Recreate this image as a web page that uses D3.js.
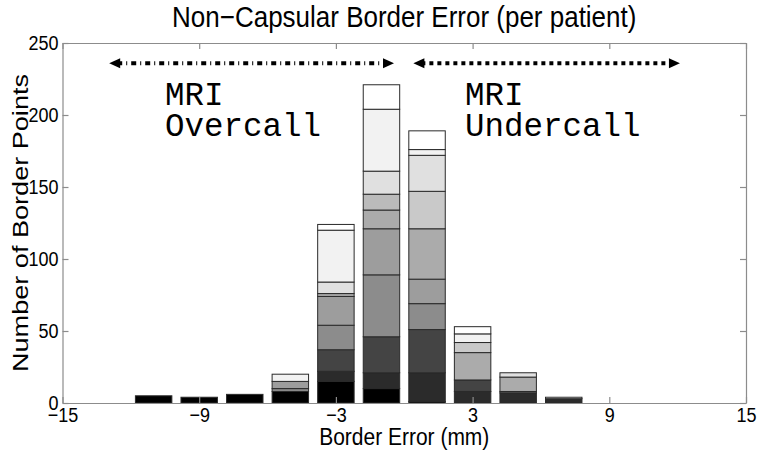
<!DOCTYPE html>
<html>
<head>
<meta charset="utf-8">
<script src="https://cdn.jsdelivr.net/npm/d3@7"></script>
<style>
  body { margin: 0; background: #fff; }
  text { font-family: "Liberation Sans", Arial, Helvetica, sans-serif; fill: #000; }
  .axis path, .axis line { stroke: #8c8c8c; stroke-width: 1.2; }
  .note { font-family: "Courier New", "Liberation Mono", monospace; }
</style>
</head>
<body>
<div id="chart"></div>
<script>
// bin centres (mm) of the histogram
const binCenters = [-11, -9, -7, -5, -3, -1, 1, 3, 5, 7];

// border points per patient in each bin (bottom of the stack first)
const patient01 = [5, 4, 6, 8, 15, 10, 1, 0, 0, 0];
const patient02 = [0, 0, 0, 0, 7, 11, 20, 8, 7, 3];
const patient03 = [0, 0, 0, 0, 15, 25, 30, 8, 0, 0];
const patient04 = [0, 0, 0, 0, 0, 0, 0, 0, 1, 0];
const patient05 = [0, 0, 0, 2, 17, 43, 18, 0, 0, 0];
const patient06 = [0, 0, 0, 5, 20, 32, 17, 0, 0, 0];
const patient07 = [0, 0, 0, 0, 2, 13, 35, 19, 10, 0];
const patient08 = [0, 0, 0, 0, 0, 11, 0, 0, 0, 0];
const patient09 = [0, 0, 0, 0, 0, 0, 26, 7, 0, 0];
const patient10 = [0, 0, 0, 0, 8, 16, 25, 0, 3, 0];
const patient11 = [0, 0, 0, 5, 36, 43, 4, 6, 0, 0];
const patient12 = [0, 0, 0, 0, 4, 17, 13, 5, 0, 1];

const patients = [patient01, patient02, patient03, patient04, patient05, patient06,
                  patient07, patient08, patient09, patient10, patient11, patient12];

const xTicks = [-15, -9, -3, 3, 9, 15];
const yTicks = [0, 50, 100, 150, 200, 250];

// arrows and labels above the histogram (data units)
const arrowFrom = [-12.95, 0.4];
const arrowTo = [-0.45, 12.1];
const arrowLevel = 236;
const noteX = [-10.5, 2.67];
const noteY = 207;
const noteLines = [["MRI", "Overcall"], ["MRI", "Undercall"]];

// grey colormap, one shade per patient
const shades = ["#000000", "#2b2b2b", "#444444", "#666666", "#8c8c8c", "#9d9d9d",
                "#ababab", "#bbbbbb", "#c9c9c9", "#e0e0e0", "#f2f2f2", "#ffffff"];

const w = 762, h = 453;
const plotLeft = 62.5, plotRight = 746, plotTop = 43, plotBottom = 403;
const stretch = 1.15; // text in the source is a bit taller than wide

const x = d3.scaleLinear().domain([-15, 15]).range([plotLeft, plotRight]);
const y = d3.scaleLinear().domain([0, 250]).range([plotBottom, plotTop]);
const barW = x(1.6) - x(0);

const fmt = d => d < 0 ? "\u2212" + Math.abs(d) : String(d);

const svg = d3.select("#chart").append("svg")
  .attr("width", w)
  .attr("height", h);

// build table for the stack
const keys = patients.map((p, i) => "p" + i);
const table = binCenters.map((c, j) => {
  const row = { center: c };
  patients.forEach((p, i) => { row["p" + i] = p[j]; });
  return row;
});
const series = d3.stack().keys(keys)(table);

const layers = svg.append("g").classed("bars", true)
  .selectAll("g")
  .data(series)
  .enter().append("g")
    .style("fill", (d, i) => shades[i]);

layers.selectAll("rect")
  .data(d => d.filter(s => s[1] - s[0] > 0))
  .enter().append("rect")
    .attr("x", d => x(d.data.center) - barW / 2)
    .attr("y", d => y(d[1]))
    .attr("width", barW)
    .attr("height", d => y(d[0]) - y(d[1]))
    .attr("stroke", "#2a2a2a")
    .attr("stroke-width", 1);

// axes box, ticks pointing inwards
svg.append("g").classed("axis", true)
  .attr("transform", "translate(0," + plotBottom + ")")
  .call(d3.axisBottom(x).tickValues(xTicks).tickSizeInner(-6).tickSizeOuter(0)
        .tickPadding(4).tickFormat(fmt))
  .call(g => g.selectAll("text").style("font-size", "18px").attr("fill", "#000")
        .attr("transform", "scale(1," + stretch + ")"));

svg.append("g").classed("axis", true)
  .attr("transform", "translate(0," + plotTop + ")")
  .call(d3.axisTop(x).tickValues(xTicks).tickSizeInner(-6).tickSizeOuter(0).tickFormat(""));

svg.append("g").classed("axis", true)
  .attr("transform", "translate(" + plotLeft + ",0)")
  .call(d3.axisLeft(y).tickValues(yTicks).tickSizeInner(-6).tickSizeOuter(0)
        .tickPadding(4).tickFormat(fmt))
  .call(g => g.selectAll("text").style("font-size", "18px").attr("fill", "#000")
        .attr("transform", "scale(1," + stretch + ")"));

svg.append("g").classed("axis", true)
  .attr("transform", "translate(" + plotRight + ",0)")
  .call(d3.axisRight(y).tickValues(yTicks).tickSizeInner(-6).tickSizeOuter(0).tickFormat(""));

// arrows
const dashes = ["5,4,1,4", "4,4"];
arrowFrom.forEach((a, i) => {
  const x1 = x(a), x2 = x(arrowTo[i]), yy = y(arrowLevel);
  svg.append("line")
    .attr("x1", x1 + 8).attr("x2", x2 - 8)
    .attr("y1", yy).attr("y2", yy)
    .attr("stroke", "#000")
    .attr("stroke-width", 4)
    .attr("stroke-dasharray", dashes[i]);
  svg.append("path")
    .attr("d", "M" + x1 + "," + yy + "L" + (x1 + 11) + "," + (yy - 5) + "L" + (x1 + 11) + "," + (yy + 5) + "Z")
    .attr("fill", "#000");
  svg.append("path")
    .attr("d", "M" + x2 + "," + yy + "L" + (x2 - 11) + "," + (yy - 5) + "L" + (x2 - 11) + "," + (yy + 5) + "Z")
    .attr("fill", "#000");
});

// MRI over / under call labels
noteX.forEach((nx, i) => {
  const t = svg.append("text").classed("note", true)
    .attr("x", x(nx))
    .attr("y", y(noteY))
    .style("font-size", "32.5px");
  noteLines[i].forEach((line, k) => {
    t.append("tspan").attr("x", x(nx)).attr("dy", k === 0 ? 0 : 31).text(line);
  });
});

// titles
svg.append("text")
  .attr("transform", "translate(" + (plotLeft + plotRight) / 2 + ",27) scale(1," + stretch + ")")
  .style("text-anchor", "middle")
  .style("font-size", "26px")
  .text("Non\u2212Capsular Border Error (per patient)");

svg.append("text")
  .attr("transform", "translate(" + (plotLeft + plotRight) / 2 + ",445) scale(1," + stretch + ")")
  .style("text-anchor", "middle")
  .style("font-size", "21px")
  .text("Border Error (mm)");

svg.append("text")
  .attr("transform", "translate(28," + (plotTop + plotBottom) / 2 + ") rotate(-90)")
  .style("text-anchor", "middle")
  .style("font-size", "22px")
  .attr("textLength", 298)
  .attr("lengthAdjust", "spacingAndGlyphs")
  .text("Number of Border Points");
</script>
</body>
</html>
